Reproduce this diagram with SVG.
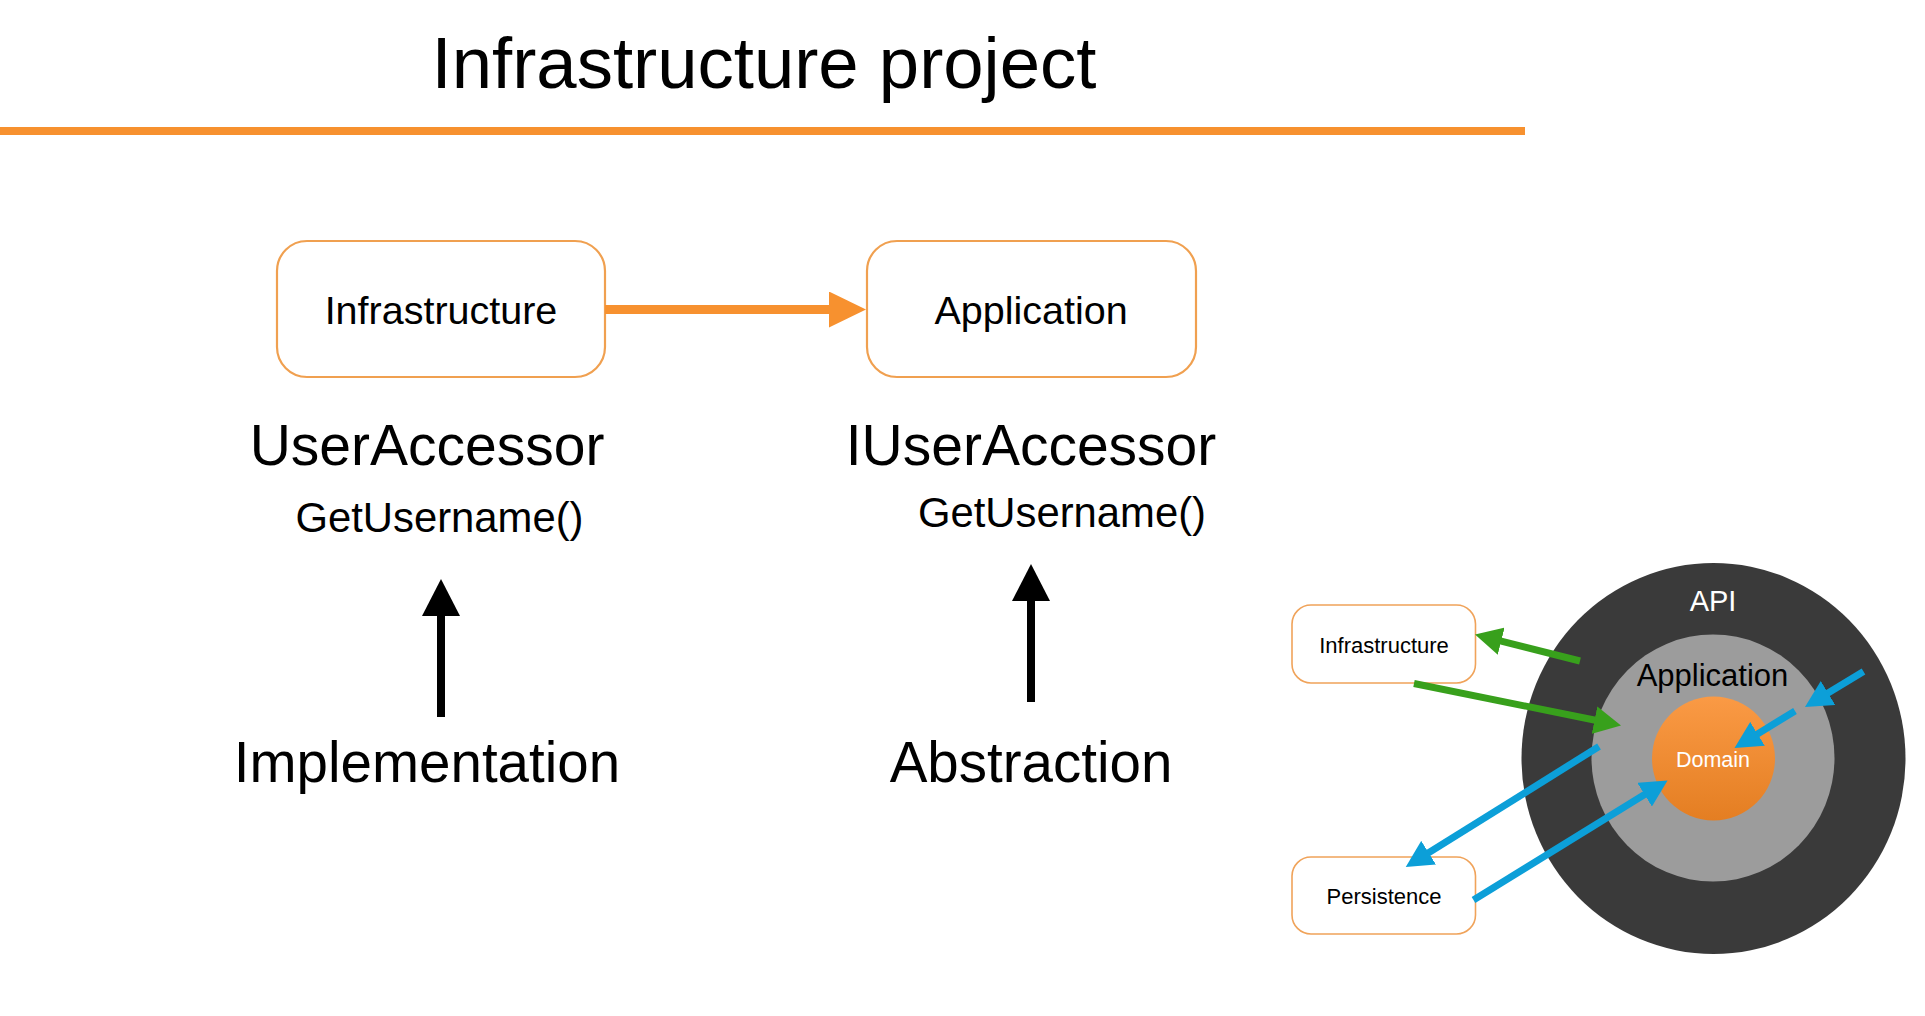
<svg xmlns="http://www.w3.org/2000/svg" width="1925" height="1016" viewBox="0 0 1925 1016">
  <style>
    text { font-family: "Liberation Sans", Arial, Helvetica, sans-serif; fill: #000; text-anchor: middle; }
    .box { fill: #fff; stroke: #F0A050; stroke-width: 2.2; }
    .sbox { fill: #fff; stroke: #F0A35A; stroke-width: 1.6; }
    .green { stroke: #38A01C; stroke-width: 7; fill: none; }
    .blue { stroke: #0C9FD8; stroke-width: 7; fill: none; }
  </style>
  <defs>
    <marker id="headOrange" markerUnits="userSpaceOnUse" markerWidth="37" markerHeight="36" viewBox="0 0 37 36" refX="1" refY="18" orient="auto">
      <path d="M0,0 L37,18 L0,36 z" fill="#F7912F"/>
    </marker>
    <marker id="headBlack" markerUnits="userSpaceOnUse" markerWidth="37" markerHeight="38" viewBox="0 0 37 38" refX="1" refY="19" orient="auto">
      <path d="M0,0 L37,19 L0,38 z" fill="#000"/>
    </marker>
    <marker id="headGreen" markerUnits="userSpaceOnUse" markerWidth="27" markerHeight="28" viewBox="0 0 27 28" refX="1" refY="14" orient="auto">
      <path d="M0,0 L27,14 L0,28 z" fill="#38A01C"/>
    </marker>
    <marker id="headBlue" markerUnits="userSpaceOnUse" markerWidth="27" markerHeight="28" viewBox="0 0 27 28" refX="1" refY="14" orient="auto">
      <path d="M0,0 L27,14 L0,28 z" fill="#0C9FD8"/>
    </marker>
    <linearGradient id="domainFill" x1="0" y1="0" x2="0" y2="1">
      <stop offset="0" stop-color="#FA9A45"/>
      <stop offset="1" stop-color="#E47E22"/>
    </linearGradient>
  </defs>

  <rect width="1925" height="1016" fill="#fff"/>

  <!-- heading and rule -->
  <g id="title">
    <text x="764" y="88" font-size="72.5">Infrastructure project</text>
    <rect x="0" y="127" width="1525" height="8" fill="#F7912F"/>
  </g>

  <!-- project boxes -->
  <g id="node-infrastructure">
    <rect class="box" x="277" y="241" width="328" height="136" rx="30"/>
    <text x="441" y="324" font-size="39.5">Infrastructure</text>
  </g>
  <g id="node-application">
    <rect class="box" x="867" y="241" width="329" height="136" rx="30"/>
    <text x="1031" y="324" font-size="39.5">Application</text>
  </g>

  <!-- class / interface captions -->
  <g id="label-useraccessor">
    <text x="427" y="465" font-size="57">UserAccessor</text>
    <text x="439.5" y="532" font-size="41.8">GetUsername()</text>
  </g>
  <g id="label-iuseraccessor">
    <text x="1031" y="465" font-size="57">IUserAccessor</text>
    <text x="1062" y="527" font-size="41.8">GetUsername()</text>
  </g>
  <g id="label-implementation">
    <text x="427" y="782" font-size="56.5">Implementation</text>
  </g>
  <g id="label-abstraction">
    <text x="1031" y="782" font-size="56.5">Abstraction</text>
  </g>

  <!-- onion architecture -->
  <g id="node-api">
    <ellipse cx="1713.5" cy="758.5" rx="192" ry="195.5" fill="#3A3A3A"/>
    <text x="1713" y="611" font-size="29" style="fill:#fff">API</text>
  </g>
  <g id="node-application-ring">
    <ellipse cx="1713" cy="758" rx="121.5" ry="123.5" fill="#9C9C9C"/>
    <text x="1712.5" y="686" font-size="31">Application</text>
  </g>
  <g id="node-domain">
    <ellipse cx="1713.5" cy="758.5" rx="61.5" ry="62" fill="url(#domainFill)"/>
    <text x="1713" y="767" font-size="21.5" style="fill:#fff">Domain</text>
  </g>
  <g id="node-infrastructure-small">
    <rect class="sbox" x="1292" y="605" width="183.5" height="78" rx="19"/>
    <text x="1384" y="653" font-size="22">Infrastructure</text>
  </g>
  <g id="node-persistence">
    <rect class="sbox" x="1292" y="857" width="183.5" height="77" rx="19"/>
    <text x="1384" y="904" font-size="22">Persistence</text>
  </g>

  <!-- connectors -->
  <g id="connectors">
    <line x1="605" y1="309.5" x2="830" y2="309.5" stroke="#F7912F" stroke-width="9" marker-end="url(#headOrange)"/>
    <line x1="441" y1="717" x2="441" y2="615" stroke="#000" stroke-width="8" marker-end="url(#headBlack)"/>
    <line x1="1031" y1="702" x2="1031" y2="600" stroke="#000" stroke-width="8" marker-end="url(#headBlack)"/>

    <line class="green" x1="1580" y1="661" x2="1500.2" y2="640.9" marker-end="url(#headGreen)"/>
    <line class="green" x1="1414" y1="683.5" x2="1595.5" y2="720.3" marker-end="url(#headGreen)"/>

    <line class="blue" x1="1863.5" y1="671.5" x2="1827.2" y2="693.5" marker-end="url(#headBlue)"/>
    <line class="blue" x1="1795" y1="711" x2="1756.7" y2="734.4" marker-end="url(#headBlue)"/>
    <line class="blue" x1="1599" y1="746.5" x2="1427.8" y2="853.25" marker-end="url(#headBlue)"/>
    <line class="blue" x1="1473.5" y1="900" x2="1645.4" y2="794.1" marker-end="url(#headBlue)"/>
  </g>
</svg>
